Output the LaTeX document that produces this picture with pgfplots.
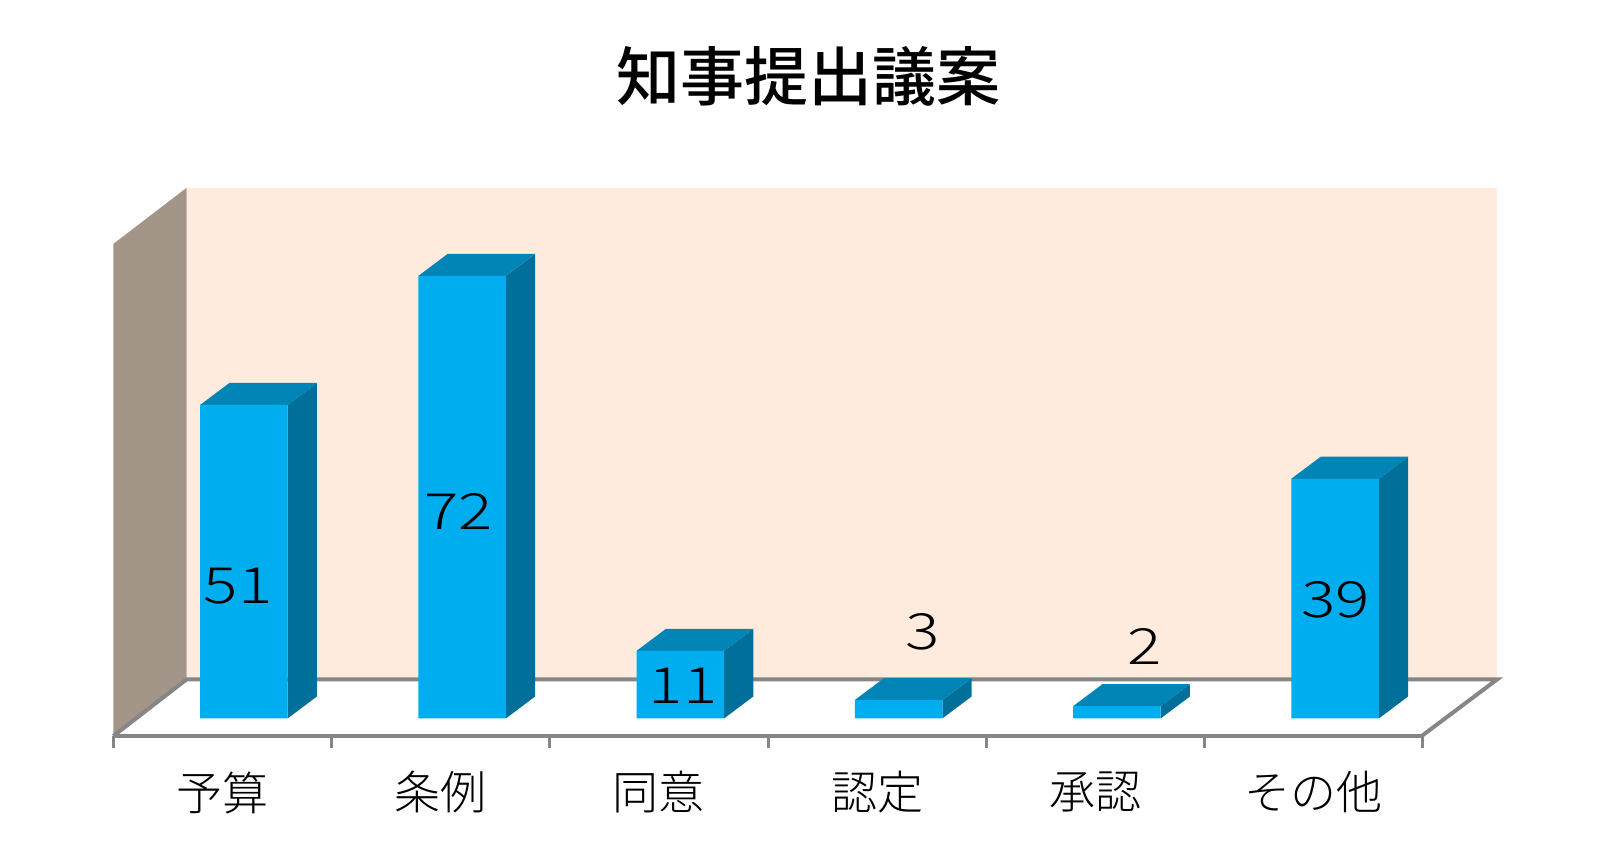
\documentclass[border=0pt]{standalone}
\usepackage{pgfplots}
\pgfplotsset{compat=1.18}
\usepackage{fontspec}
\setmainfont{Noto Sans CJK JP Light}
\newfontfamily\cjkb{Noto Sans CJK JP Medium}
\newfontfamily\numf[FakeStretch=1.28]{Noto Sans CJK JP Light}
\definecolor{front}{HTML}{00AEEF}
\definecolor{topf}{HTML}{0085B6}
\definecolor{sidef}{HTML}{006F9A}
\definecolor{backw}{HTML}{FEEBDD}
\definecolor{sidew}{HTML}{A39689}
\definecolor{axg}{HTML}{868686}
\begin{document}
\begin{tikzpicture}[x=1pt,y=1pt]
\begin{axis}[
  at={(0pt,0pt)}, anchor=south west,
  scale only axis, width=1309.5pt, height=548.3pt,
  xmin=0, xmax=6, ymin=-2.85, ymax=86.35,
  clip=false,
  axis x line=bottom, axis y line=none,
  axis line style={draw=axg, line width=4pt, -},
  xtick={0,1,2,3,4,5,6},
  x tick label as interval,
  xticklabels={予算,条例,同意,認定,承認,その他},
  tick style={draw=axg, line width=3pt},
  major tick length=12pt, tick align=outside,
  xticklabel style={font=\fontsize{46pt}{46pt}\selectfont, yshift=-20pt, text=black},
  title style={font=\cjkb\fontsize{64pt}{64pt}\selectfont, at={(0.531,1)}, yshift=105pt, anchor=center},
  title={知事提出議案},
]
% walls
\addplot[fill=backw, draw=none] coordinates {(0.3364,6.38)(6.3414,6.38)(6.3414,86.35)(0.3364,86.35)} -- cycle;
\addplot[fill=sidew, draw=none] coordinates {(0,-2.85)(0.3364,6.38)(0.3364,86.35)(0,77.2)} -- cycle;
\addplot[draw=axg, line width=4pt] coordinates {(0,-2.85)(0.3364,6.38)(6.3414,6.38)(5.995,-2.85)};
% bar side faces
\addplot[fill=sidef, draw=none] coordinates {(0.7985,0)(0.933,3.58)(0.933,54.58)(0.7985,51)} -- cycle;
\addplot[fill=sidef, draw=none] coordinates {(1.7985,0)(1.933,3.58)(1.933,75.58)(1.7985,72)} -- cycle;
\addplot[fill=sidef, draw=none] coordinates {(2.7985,0)(2.933,3.58)(2.933,14.58)(2.7985,11)} -- cycle;
\addplot[fill=sidef, draw=none] coordinates {(3.7985,0)(3.933,3.58)(3.933,6.58)(3.7985,3)} -- cycle;
\addplot[fill=sidef, draw=none] coordinates {(4.7985,0)(4.933,3.58)(4.933,5.58)(4.7985,2)} -- cycle;
\addplot[fill=sidef, draw=none] coordinates {(5.7985,0)(5.933,3.58)(5.933,42.58)(5.7985,39)} -- cycle;
% bar top faces
\addplot[fill=topf, draw=none] coordinates {(0.3975,51)(0.7985,51)(0.933,54.58)(0.532,54.58)} -- cycle;
\addplot[fill=topf, draw=none] coordinates {(1.3975,72)(1.7985,72)(1.933,75.58)(1.532,75.58)} -- cycle;
\addplot[fill=topf, draw=none] coordinates {(2.3975,11)(2.7985,11)(2.933,14.58)(2.532,14.58)} -- cycle;
\addplot[fill=topf, draw=none] coordinates {(3.3975,3)(3.7985,3)(3.933,6.58)(3.532,6.58)} -- cycle;
\addplot[fill=topf, draw=none] coordinates {(4.3975,2)(4.7985,2)(4.933,5.58)(4.532,5.58)} -- cycle;
\addplot[fill=topf, draw=none] coordinates {(5.3975,39)(5.7985,39)(5.933,42.58)(5.532,42.58)} -- cycle;
% front faces
\addplot[ybar, bar shift=0pt, bar width=87.5pt, fill=front, draw=none]
  coordinates {(0.598,51)(1.598,72)(2.598,11)(3.598,3)(4.598,2)(5.598,39)};
% data labels
\addplot[only marks, mark=none, nodes near coords, point meta=explicit symbolic,
  every node near coord/.style={anchor=center, font=\numf\fontsize{50pt}{50pt}\selectfont, text=black}]
  table[meta=v] {
x y v
0.5717 21.47 51
1.5824 33.6 72
2.6109 5.36 11
3.7063 14.1 3
4.7237 11.7 2
5.6012 19.3 39
};
\path[use as bounding box] (-113.3pt,-123pt) rectangle (1502.7pt,736pt);
\end{axis}
\end{tikzpicture}
\end{document}
